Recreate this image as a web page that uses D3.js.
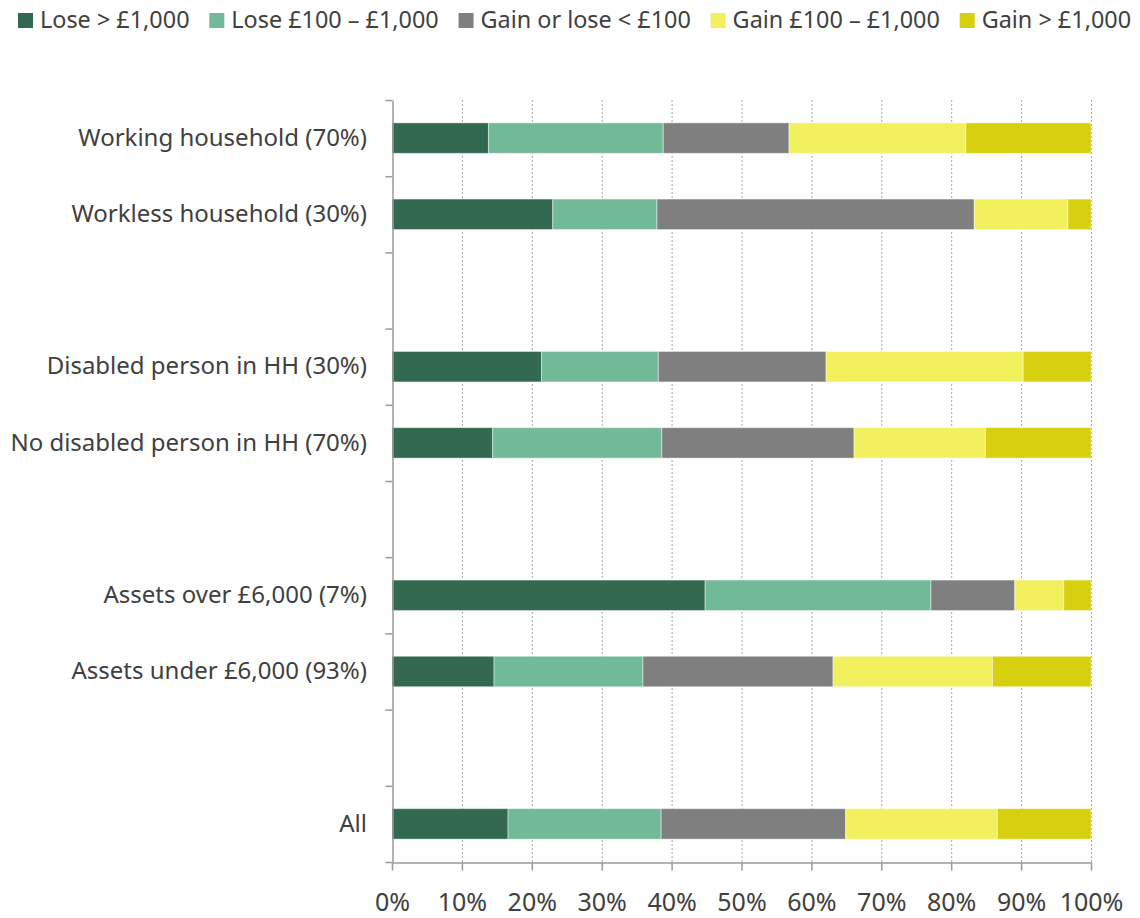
<!DOCTYPE html>
<html>
<head>
<meta charset="utf-8">
<script src="https://cdn.jsdelivr.net/npm/d3@7"></script>
<style>
  body { margin: 0; background: #fff; }
  text { font-family: "Noto Sans", "Open Sans", sans-serif; fill: #404040; }
</style>
</head>
<body>
<svg width="1140" height="918"></svg>
<script>
// rows top to bottom, "" = empty spacer row
var categories = ["Working household (70%)", "Workless household (30%)", "",
    "Disabled person in HH (30%)", "No disabled person in HH (70%)", "",
    "Assets over £6,000 (7%)", "Assets under £6,000 (93%)", "", "All"];

var seriesNames = ["Lose > £1,000", "Lose £100 – £1,000", "Gain or lose < £100", "Gain £100 – £1,000", "Gain > £1,000"];
var seriesColors = ["#336950", "#71b997", "#7f7f7f", "#f3f05d", "#d6d00e"];

var loseBig   = [13.8, 23.0, null, 21.4, 14.4, null, 44.8, 14.6, null, 16.6];
var loseSmall = [25.0, 14.9, null, 16.7, 24.2, null, 32.3, 21.3, null, 21.9];
var noChange  = [18.0, 45.4, null, 24.0, 27.5, null, 12.0, 27.2, null, 26.4];
var gainSmall = [25.3, 13.4, null, 28.2, 18.8, null, 7.0, 22.8, null, 21.7];
var gainBig   = [17.9, 3.3, null, 9.7, 15.1, null, 3.9, 14.1, null, 13.4];

var xTicks = [0, 10, 20, 30, 40, 50, 60, 70, 80, 90, 100];

var margin = {top: 100, left: 392, right: 1091, bottom: 862};

var rows = categories.map(function (c, i) {
    return {
        idx: i, label: c,
        s0: loseBig[i], s1: loseSmall[i], s2: noChange[i], s3: gainSmall[i], s4: gainBig[i]
    };
});
var keys = ["s0", "s1", "s2", "s3", "s4"];
var dataRows = rows.filter(function (d) { return d.label !== ""; });

var svg = d3.select("svg");

var x = d3.scaleLinear().domain([0, 100]).range([margin.left, margin.right]);
var y = d3.scaleBand().domain(d3.range(categories.length)).range([margin.top, margin.bottom]);
var yEdge = d3.scaleLinear().domain([0, categories.length]).range([margin.top, margin.bottom]);

// dotted gridlines
svg.append("g")
    .selectAll("line")
    .data(xTicks.filter(function (t) { return t > 0; }))
    .enter().append("line")
    .attr("x1", function (d) { return x(d) + 0.5; })
    .attr("x2", function (d) { return x(d) + 0.5; })
    .attr("y1", margin.top)
    .attr("y2", margin.bottom)
    .attr("stroke", "#a8a8a8")
    .attr("stroke-width", 1)
    .attr("stroke-dasharray", "2,2");

// stacked bars
var stacked = d3.stack().keys(keys)(dataRows);
var barH = y.bandwidth() * 0.4;

svg.append("g")
    .selectAll("g")
    .data(stacked)
    .enter().append("g")
    .attr("fill", function (d, i) { return seriesColors[i]; })
    .selectAll("rect")
    .data(function (d) { return d; })
    .enter().append("rect")
    .attr("x", function (d) { return x(d[0]); })
    .attr("width", function (d) { return x(d[1]) - x(d[0]); })
    .attr("y", function (d) { return y(d.data.idx) + (y.bandwidth() - barH) / 2; })
    .attr("height", barH)
    .attr("stroke", "rgba(255,255,255,0.45)")
    .attr("stroke-width", 1);

// y axis: line + ticks at row edges
var yAxis = svg.append("g")
    .attr("transform", "translate(" + (margin.left + 0.5) + ",0)")
    .call(d3.axisLeft(yEdge).tickValues(d3.range(categories.length + 1)).tickSize(7).tickSizeOuter(0).tickFormat(""));
yAxis.select(".domain").attr("stroke", "#9a9a9a").attr("stroke-width", 1.5);
yAxis.selectAll(".tick line").attr("stroke", "#9a9a9a").attr("stroke-width", 1.5);

// category labels
svg.append("g")
    .selectAll("text")
    .data(dataRows)
    .enter().append("text")
    .attr("x", 367)
    .attr("y", function (d) { return y(d.idx) + y.bandwidth() / 2; })
    .attr("dy", "0.32em")
    .attr("text-anchor", "end")
    .style("font-size", "24px")
    .text(function (d) { return d.label; });

// x axis
var xAxis = svg.append("g")
    .attr("transform", "translate(0," + (margin.bottom + 0.5) + ")")
    .call(d3.axisBottom(x).tickValues(xTicks).tickSize(8).tickSizeOuter(0).tickPadding(23)
        .tickFormat(function (d) { return d + "%"; }));
xAxis.select(".domain").attr("stroke", "#9a9a9a").attr("stroke-width", 1.5);
xAxis.selectAll(".tick line").attr("stroke", "#9a9a9a").attr("stroke-width", 1.5);
xAxis.selectAll(".tick text")
    .style("font-family", "'Noto Sans', 'Open Sans', sans-serif")
    .style("font-size", "25px")
    .attr("fill", "#404040");

// legend
var legend = svg.append("g").attr("transform", "translate(18,0)");
var lx = 0;
seriesNames.forEach(function (name, i) {
    var g = legend.append("g").attr("transform", "translate(" + lx + ",0)");
    g.append("rect")
        .attr("x", 0).attr("y", 13)
        .attr("width", 15).attr("height", 15)
        .attr("fill", seriesColors[i]);
    var t = g.append("text")
        .attr("x", 22).attr("y", 28)
        .style("font-size", "23.4px")
        .text(name);
    lx += 22 + t.node().getComputedTextLength() + 19.8;
});
</script>
</body>
</html>
